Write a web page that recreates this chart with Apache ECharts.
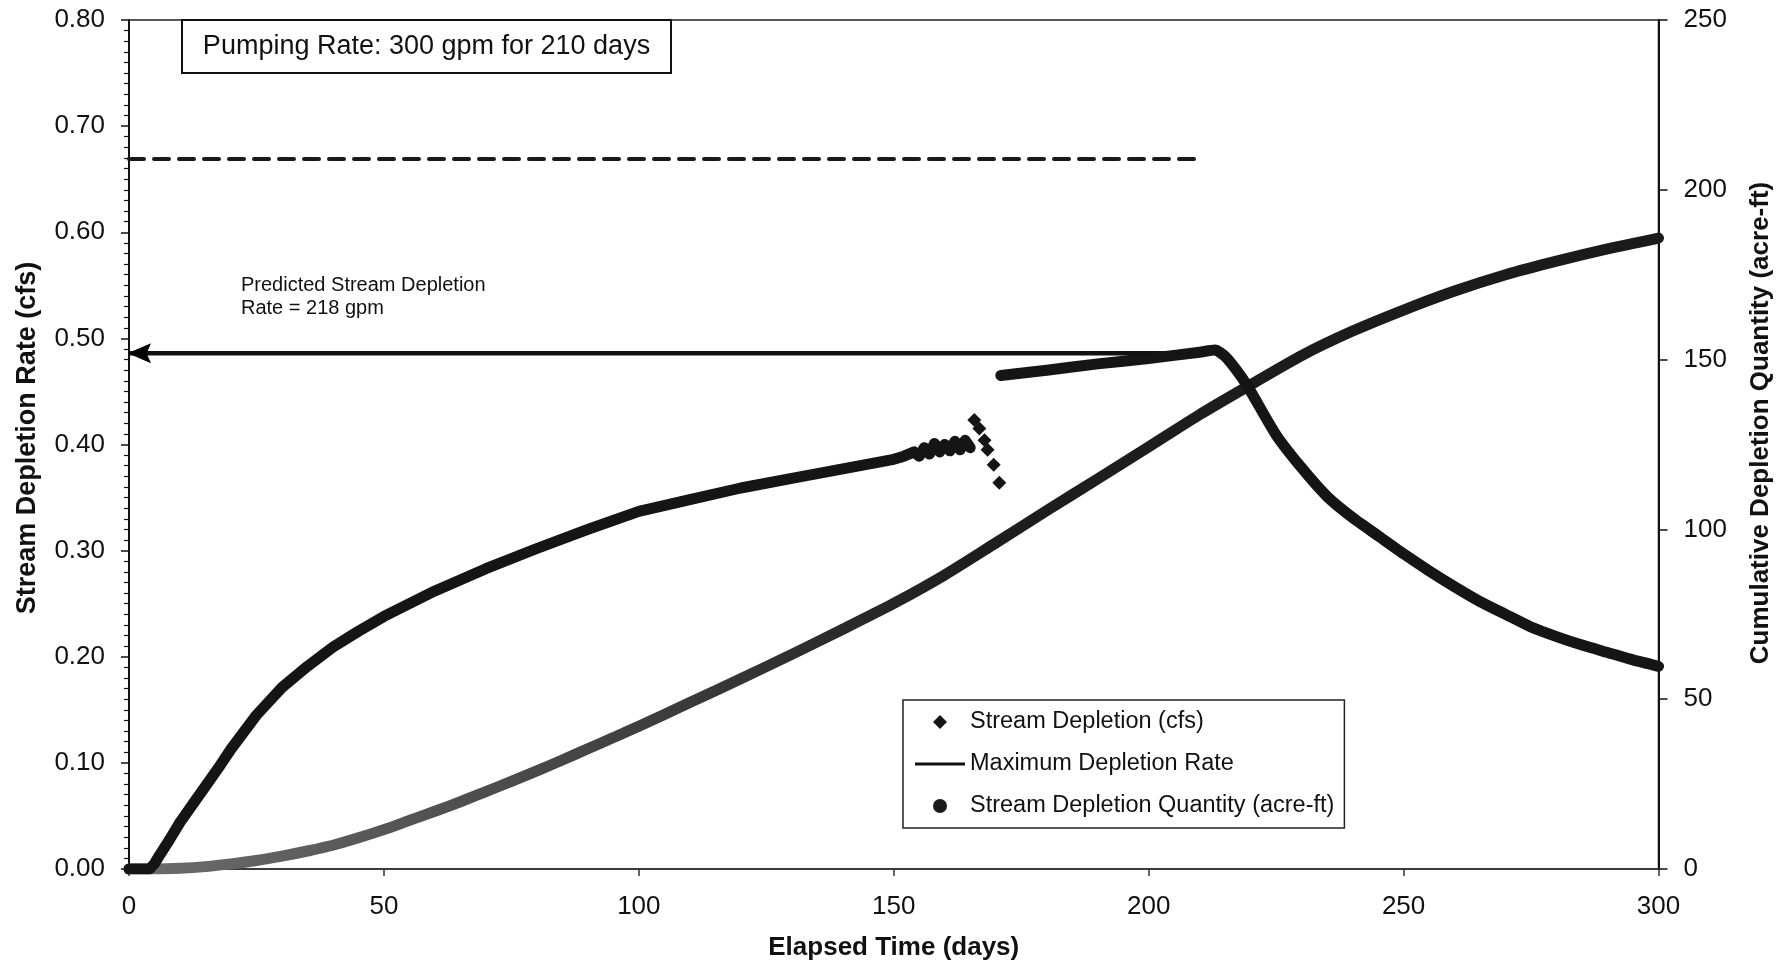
<!DOCTYPE html>
<html>
<head>
<meta charset="utf-8">
<script src="https://cdn.jsdelivr.net/npm/echarts@6/dist/echarts.min.js"></script>
<style>
html,body{margin:0;padding:0;background:#ffffff;}
#chart{width:1781px;height:967px;}
</style>
</head>
<body>
<div id="chart"></div>
<script>
// ---------- axis ticks ----------
const dayTicks = [0, 50, 100, 150, 200, 250, 300];
const rateTicks = [0.00, 0.10, 0.20, 0.30, 0.40, 0.50, 0.60, 0.70, 0.80];
const quantityTicks = [0, 50, 100, 150, 200, 250];

// ---------- Stream Depletion (cfs): rising limb, days 0-165 ----------
const risingDays = [0, 4, 5, 6, 8, 10, 12.5, 15, 17.5, 20, 25, 30, 35, 40, 45, 50, 60, 70, 80, 90, 100, 110, 120, 130, 140, 150, 152, 154, 155, 156, 157, 158, 159, 160, 161, 162, 163, 164, 165];
const risingCfs  = [0, 0, 0.005, 0.013, 0.028, 0.044, 0.061, 0.078, 0.095, 0.113, 0.145, 0.171, 0.191, 0.209, 0.224, 0.238, 0.262, 0.283, 0.302, 0.320, 0.337, 0.348, 0.359, 0.368, 0.377, 0.386, 0.389, 0.393, 0.389, 0.397, 0.391, 0.401, 0.393, 0.400, 0.394, 0.403, 0.395, 0.404, 0.397];

// ---------- Stream Depletion (cfs): isolated diamonds, days 165-171 ----------
const jumpDays = [165.8, 166.8, 167.8, 168.4, 169.6, 170.7];
const jumpCfs  = [0.423, 0.415, 0.404, 0.395, 0.381, 0.364];

// ---------- Stream Depletion (cfs): days 171-300 ----------
const fallingDays = [171, 180, 190, 200, 210, 213, 215, 218, 220, 225, 230, 235, 240, 245, 250, 255, 260, 265, 270, 275, 280, 285, 290, 295, 300];
const fallingCfs  = [0.465, 0.470, 0.476, 0.481, 0.487, 0.489, 0.483, 0.465, 0.450, 0.409, 0.378, 0.351, 0.331, 0.314, 0.297, 0.281, 0.266, 0.252, 0.240, 0.228, 0.219, 0.211, 0.204, 0.197, 0.191];

// ---------- Stream Depletion Quantity (acre-ft) ----------
const quantityDays   = [0, 5, 10, 15, 20, 25, 30, 35, 40, 45, 50, 55, 60, 65, 70, 75, 80, 85, 90, 95, 100, 110, 120, 130, 140, 150, 160, 170, 180, 190, 200, 210, 220, 230, 240, 250, 260, 270, 280, 290, 300];
const quantityAcreFt = [0, 0, 0.2, 0.7, 1.5, 2.5, 3.8, 5.3, 7.0, 9.2, 11.6, 14.3, 17.0, 19.8, 22.8, 25.8, 28.9, 32.1, 35.4, 38.7, 42.0, 49.0, 56.0, 63.2, 70.6, 78.2, 86.6, 96.0, 105.5, 114.9, 124.3, 133.8, 142.6, 151.2, 158.4, 164.6, 170.2, 175.0, 179.0, 182.6, 185.8];

// ---------- Maximum Depletion Rate (arrow, 218 gpm) ----------
const maxRateDays = [0, 205];
const maxRateCfs  = [0.486, 0.486];

// ---------- Pumping rate (300 gpm for 210 days), dashed ----------
const pumpDays = [0, 210];
const pumpCfs  = [0.669, 0.669];

const FONT = '"Liberation Sans", Arial, Helvetica, sans-serif';
const INK = '#111111';

function pairs(xs, ys) { return xs.map((x, i) => [x, ys[i]]); }

const chart = echarts.init(document.getElementById('chart'), null, {renderer: 'canvas'});

const option = {
  animation: false,
  backgroundColor: '#ffffff',
  grid: {
    left: 129, right: 122.5, top: 20, bottom: 98,
    show: true, borderColor: '#222', borderWidth: 1.5,
    outerBoundsMode: 'none', containLabel: false
  },
  legend: {
    orient: 'vertical',
    left: 903, top: 700,
    padding: [10, 10, 10, 12],
    itemGap: 18,
    itemWidth: 50, itemHeight: 14,
    symbolKeepAspect: true,
    borderColor: '#222', borderWidth: 1.5,
    backgroundColor: '#fff',
    textStyle: {fontFamily: FONT, fontSize: 23.5, color: INK},
    data: [
      {name: 'Stream Depletion (cfs)', icon: 'path://M7,0 L14,7 L7,14 L0,7 Z'},
      {name: 'Maximum Depletion Rate', icon: 'path://M0,0 L50,0 L50,3 L0,3 Z'},
      {name: 'Stream Depletion Quantity (acre-ft)', icon: 'circle'}
    ]
  },
  xAxis: {
    type: 'value',
    min: dayTicks[0], max: dayTicks[dayTicks.length - 1],
    interval: dayTicks[1] - dayTicks[0],
    name: 'Elapsed Time (days)', nameLocation: 'middle', nameGap: 66,
    nameTextStyle: {fontFamily: FONT, fontSize: 26, fontWeight: 'bold', color: INK},
    axisLine: {show: true, onZero: false, lineStyle: {color: '#333', width: 1.5}},
    axisTick: {show: true, inside: false, length: 7, lineStyle: {color: '#333', width: 1.5}},
    axisLabel: {fontFamily: FONT, fontSize: 26, color: INK, margin: 25},
    splitLine: {show: false}
  },
  yAxis: [
    {
      type: 'value', position: 'left',
      min: rateTicks[0], max: rateTicks[rateTicks.length - 1],
      interval: 0.1,
      name: 'Stream Depletion Rate (cfs)', nameLocation: 'middle', nameRotate: 90, nameGap: 88,
      nameTextStyle: {fontFamily: FONT, fontSize: 27, fontWeight: 'bold', color: INK, padding: [0, 0, 0, 13]},
      axisLine: {show: true, onZero: false, lineStyle: {color: '#111', width: 2}},
      axisTick: {show: true, inside: false, length: 8, lineStyle: {color: '#111', width: 1.5}},
      minorTick: {show: true, splitNumber: 10, length: 5, lineStyle: {color: '#111', width: 1.2}},
      axisLabel: {fontFamily: FONT, fontSize: 26, color: INK, margin: 24, formatter: v => v.toFixed(2)},
      splitLine: {show: false}
    },
    {
      type: 'value', position: 'right',
      min: quantityTicks[0], max: quantityTicks[quantityTicks.length - 1],
      interval: quantityTicks[1] - quantityTicks[0],
      name: 'Cumulative Depletion Quantity (acre-ft)', nameLocation: 'middle', nameRotate: 90, nameGap: 89,
      nameTextStyle: {fontFamily: FONT, fontSize: 26, fontWeight: 'bold', color: INK, padding: [0, 0, 0, 43]},
      axisLine: {show: true, onZero: false, lineStyle: {color: '#111', width: 2}},
      axisTick: {show: true, inside: false, length: 9, lineStyle: {color: '#111', width: 1.5}},
      axisLabel: {fontFamily: FONT, fontSize: 26, color: INK, margin: 25},
      splitLine: {show: false}
    }
  ],
  series: [
    {
      name: 'Pumping Rate',
      type: 'line', yAxisIndex: 0,
      data: pairs(pumpDays, pumpCfs),
      symbol: 'none',
      lineStyle: {color: '#1a1a1a', width: 4, type: [15, 10], cap: 'round'},
      z: 3
    },
    {
      name: 'Maximum Depletion Rate',
      type: 'line', yAxisIndex: 0,
      data: pairs(maxRateDays, maxRateCfs),
      symbol: 'none',
      itemStyle: {color: '#111'},
      lineStyle: {color: '#111', width: 4.5},
      z: 4
    },
    {
      name: 'Maximum Depletion Rate',
      type: 'scatter', yAxisIndex: 0,
      data: [[maxRateDays[0], maxRateCfs[0]]],
      symbol: 'path://M0,9 L21,0 L17,9 L21,18 Z',
      symbolSize: [21, 18], symbolOffset: [10.5, 0],
      itemStyle: {color: '#000', opacity: 1, borderColor: '#000', borderWidth: 1},
      clip: false,
      z: 8
    },
    {
      name: 'Stream Depletion Quantity (acre-ft)',
      type: 'line', yAxisIndex: 1,
      data: pairs(quantityDays, quantityAcreFt),
      symbol: 'none',
      smooth: 0.25,
      itemStyle: {color: '#1a1a1a'},
      lineStyle: {
        width: 11, cap: 'round', join: 'round',
        color: new echarts.graphic.LinearGradient(0, 0, 1, 0, [
          {offset: 0, color: '#6e6e6e'},
          {offset: 0.3, color: '#444444'},
          {offset: 0.55, color: '#1e1e1e'},
          {offset: 1, color: '#1a1a1a'}
        ])
      },
      z: 5
    },
    {
      name: 'Stream Depletion (cfs)',
      type: 'line', yAxisIndex: 0,
      data: pairs(risingDays, risingCfs),
      symbol: 'none',
      itemStyle: {color: '#151515'},
      lineStyle: {color: '#151515', width: 11, cap: 'round', join: 'round'},
      z: 6
    },
    {
      name: 'Stream Depletion (cfs)',
      type: 'scatter', yAxisIndex: 0,
      data: pairs(jumpDays, jumpCfs),
      symbol: 'diamond', symbolSize: 14,
      itemStyle: {color: '#151515', opacity: 1},
      z: 6
    },
    {
      name: 'Stream Depletion (cfs)',
      type: 'line', yAxisIndex: 0,
      data: pairs(fallingDays, fallingCfs),
      symbol: 'none',
      smooth: 0.2,
      itemStyle: {color: '#151515'},
      lineStyle: {color: '#151515', width: 11, cap: 'round', join: 'round'},
      z: 6
    }
  ],
  graphic: [
    {
      type: 'rect', z: 100,
      shape: {x: 182, y: 20, width: 489, height: 53},
      style: {fill: '#ffffff', stroke: '#111', lineWidth: 2}
    },
    {
      type: 'text', z: 101, x: 426.5, y: 47,
      style: {text: 'Pumping Rate: 300 gpm for 210 days', fontFamily: FONT, fontSize: 27, fill: INK, align: 'center', verticalAlign: 'middle'}
    },
    {
      type: 'text', z: 101, x: 241, y: 274,
      style: {text: 'Predicted Stream Depletion\nRate = 218 gpm', fontFamily: FONT, fontSize: 20, lineHeight: 23, fill: INK, align: 'left', verticalAlign: 'top'}
    }
  ]
};

chart.setOption(option);
</script>
</body>
</html>
